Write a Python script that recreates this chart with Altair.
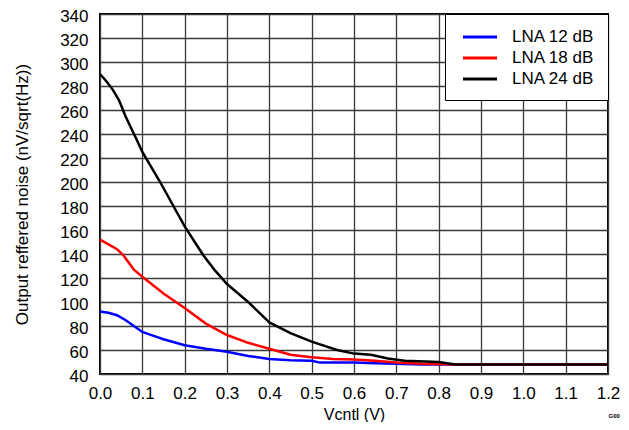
import altair as alt
import pandas as pd

# ---- data ----
series_names = ["LNA 12 dB", "LNA 18 dB", "LNA 24 dB"]
series_colors = ["#0000ff", "#ff0000", "#000000"]

x_12 = [0, 0.02, 0.04, 0.06, 0.08, 0.1, 0.125, 0.15, 0.2, 0.25, 0.3, 0.35, 0.4,
        0.45, 0.5, 0.52, 0.6, 0.65, 0.7, 0.76, 0.8, 0.9, 1.0, 1.1, 1.2]
y_12 = [92, 91, 89, 85, 80, 75, 72, 69, 64, 61, 58.5, 55, 52.5,
        51.5, 51, 49.5, 49.5, 49, 48.5, 48, 48, 48, 48, 48, 48]

x_18 = [0, 0.02, 0.04, 0.055, 0.08, 0.1, 0.15, 0.2, 0.25, 0.3, 0.35, 0.4, 0.45,
        0.5, 0.55, 0.6, 0.65, 0.7, 0.76, 0.84, 0.9, 1.0, 1.1, 1.2]
y_18 = [152, 148, 144, 139, 127, 121, 107, 95, 82, 72.5, 66, 61, 56,
        54, 52.5, 52, 51, 49.5, 48.5, 48, 48, 48, 48, 48]

x_24 = [0, 0.015, 0.03, 0.045, 0.06, 0.087, 0.1, 0.142, 0.2, 0.244, 0.27, 0.3, 0.35,
        0.4, 0.45, 0.5, 0.56, 0.6, 0.64, 0.68, 0.72, 0.8, 0.84, 0.9, 1.0, 1.1, 1.2]
y_24 = [290, 284, 277, 268, 255, 235, 225, 200, 163, 139, 127, 115, 100,
        83, 74, 67, 60, 57, 56, 53, 51, 50, 48, 48, 48, 48, 48]

x_ticks = [0, 0.1, 0.2, 0.3, 0.4, 0.5, 0.6, 0.7, 0.8, 0.9, 1.0, 1.1, 1.2]
y_ticks = list(range(40, 341, 20))

rows = []
for name, xs, ys in zip(series_names, [x_12, x_18, x_24], [y_12, y_18, y_24]):
    for xv, yv in zip(xs, ys):
        rows.append({"Vcntl": xv, "noise": yv, "series": name})
df = pd.DataFrame(rows)

FONT = "Liberation Sans"

chart = alt.Chart(df).mark_line(strokeWidth=2.5).encode(
    x=alt.X("Vcntl:Q",
            scale=alt.Scale(domain=[0, 1.2], nice=False, zero=False),
            axis=alt.Axis(title="Vcntl (V)", values=x_ticks, format=".1f",
                          labelPadding=11, titlePadding=5, titleFontSize=16,
                          labelFlush=False, labelOverlap=False)),
    y=alt.Y("noise:Q",
            scale=alt.Scale(domain=[40, 340], nice=False, zero=False),
            axis=alt.Axis(title="Output reffered noise (nV/sqrt(Hz))", values=y_ticks,
                          labelPadding=12, titlePadding=28, labelOffset=2,
                          labelFlush=False, labelOverlap=False)),
    color=alt.Color("series:N",
                    scale=alt.Scale(domain=series_names, range=series_colors),
                    legend=alt.Legend(title=None, orient="none", legendX=345, legendY=0,
                                      fillColor="white", strokeColor="black",
                                      padding=13, symbolType="M-2,0H2", symbolSize=289,
                                      symbolOffset=12, symbolFillColor="transparent",
                                      symbolStrokeWidth=3, labelOffset=22, rowPadding=3,
                                      labelExpr="datum.label + ' '",
                                      labelFont=FONT, labelFontSize=17, labelColor="black")),
    order=alt.Order("Vcntl:Q"),
).properties(
    width=508,
    height=360,
    background="white",
    autosize=alt.AutoSizeParams(type="none"),
    padding={"left": 92, "top": 6, "right": 13, "bottom": 48},
    title=alt.TitleParams("G00", orient="bottom", anchor="end", fontSize=6,
                          font=FONT, color="black", fontWeight="bold", dx=0, dy=-13),
).configure_view(
    stroke="black", strokeWidth=2
).configure_axis(
    labelFont=FONT, labelFontSize=17, labelColor="black",
    titleFont=FONT, titleFontSize=17, titleFontWeight="normal", titleColor="black",
    grid=True, gridColor="#3a3a3a", gridWidth=1.3, gridOpacity=1,
    domain=False, ticks=False,
)

chart.save("out.html", embed_options={"renderer": "svg", "actions": False})
